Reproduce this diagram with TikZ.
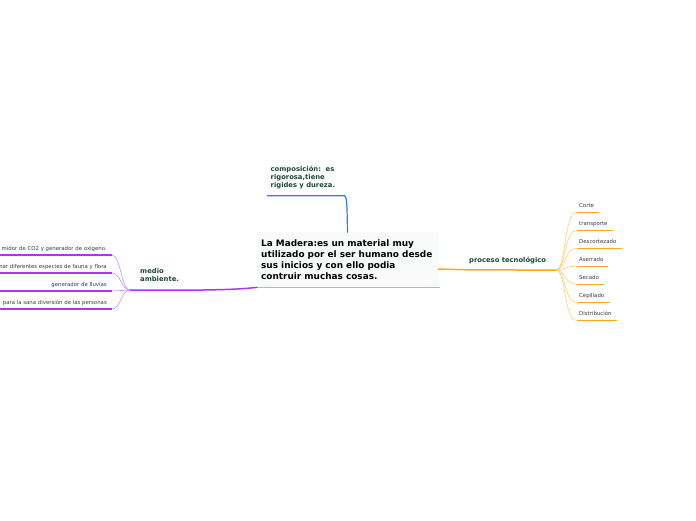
\documentclass[tikz,border=0pt]{standalone}
\usepackage{fontspec}
\setmainfont{DejaVu Sans}
\definecolor{lblgreen}{RGB}{28,72,58}
\definecolor{leafgray}{RGB}{60,60,60}
\definecolor{cblue}{RGB}{65,115,240}
\definecolor{lblue}{RGB}{140,195,235}
\definecolor{cpurple}{RGB}{175,50,245}
\definecolor{lpurple}{RGB}{205,140,250}
\definecolor{corange}{RGB}{255,165,30}
\definecolor{lorange}{RGB}{255,205,120}
\definecolor{mainbg}{RGB}{249,251,251}
\tikzset{
  mainlbl/.style={font=\fontsize{8.9}{11}\selectfont\bfseries, text=black, align=left, inner sep=0, anchor=base west},
  brlbl/.style={font=\fontsize{6.8}{8}\selectfont\bfseries, text=lblgreen, align=left, inner sep=0, anchor=base west},
  leafR/.style={font=\fontsize{5.4}{6.5}\selectfont, text=leafgray, inner sep=0, anchor=base west},
  leafL/.style={font=\fontsize{5.4}{6.5}\selectfont, text=leafgray, inner sep=0, anchor=base east},
  uline/.style={line width=1.5pt},
  twig/.style={line width=0.6pt},
}
\begin{document}
\begin{tikzpicture}[x=1pt,y=-1pt]
\useasboundingbox (0,0) rectangle (696,520);
% central topic
\fill[mainbg] (257,232) rectangle (439,287);
\node[mainlbl] (main) at (261,279) {La Madera:es un material muy\\utilizado por el ser humano desde\\sus inicios y con ello podia\\contruir muchas cosas.};
\coordinate (mainL) at (257.3,287.3);
\coordinate (mainR) at (439.5,287.3);
\coordinate (mainTop) at (347.5,232.5);
\draw[lblue, uline] (mainL) -- (mainR);

% composicion
\node[brlbl] (comp) at (270.5,187.3) {composición:\ \ es\\rigorosa,tiene\\rigides y dureza.};
\coordinate (compL) at (267,195.7);
\coordinate (compR) at (344.5,195.7);
\draw[cblue, line width=1.2pt] (compL) -- (compR) .. controls (347,197) and (347,205) .. (mainTop);

% proceso tecnologico
\node[brlbl] (proc) at (469,262.7) {proceso tecnológico};
\coordinate (procL) at (438,269);
\coordinate (hubR) at (556,270);
\draw[corange, uline] (procL) .. controls (470,270) .. (hubR);

\foreach \n/\y/\e/\t in {a/212.3/598.5/Corte, b/230.3/612.7/transporte, c/248.3/621.7/Descortezado, d/266.3/608/Aserrado, e/284.3/603.5/Secado, f/302.3/609.5/Cepillado, g/320.3/616.7/Distribución}{
  \coordinate (s\n) at (576.5,\y);
  \coordinate (t\n) at (\e,\y);
  \draw[lorange, twig] (hubR) .. controls (566,270) and (564,\y) .. (s\n);
  \draw[corange, uline] (s\n) -- (t\n);
  \node[leafR] (l\n) at (579,\y-5) {\t};
}

% medio ambiente
\node[brlbl] (medio) at (140,281.7) {medio\\ambiente.};
\coordinate (hubL) at (130,290);
\draw[cpurple, uline] (mainL) .. controls (235,290) and (200,290.5) .. (hubL);

\foreach \n/\y in {a/255, b/273, c/291, d/309}{
  \coordinate (p\n) at (111.7,\y);
  \coordinate (q\n) at (0,\y);
  \draw[lpurple, twig] (hubL) .. controls (121,290) and (121,\y) .. (p\n);
  \draw[cpurple, uline] (p\n) -- (q\n);
}
\node[leafL] (ma) at (107,250) {midor de CO2 y generador de oxigeno.};
\node[leafL] (mb) at (107,268.3) {nar diferentes especies de fauna y flora};
\node[leafL] (mc) at (107,286) {generador de lluvias};
\node[leafL] (md) at (107,304) {para la sana diversión de las personas};
\end{tikzpicture}
\end{document}
